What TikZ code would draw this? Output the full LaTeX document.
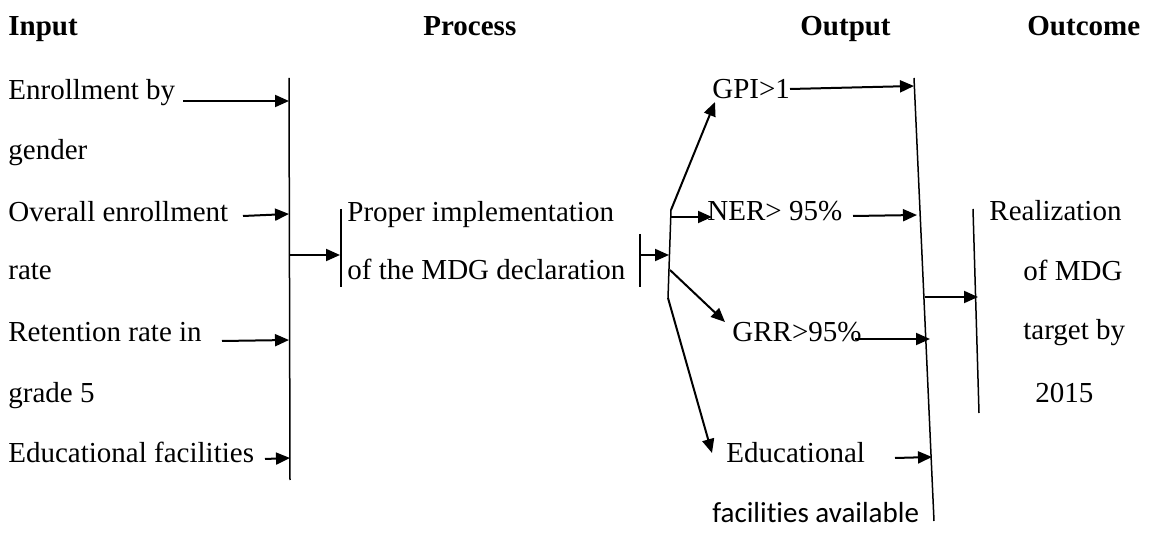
\documentclass[tikz,border=0pt]{standalone}
\usepackage{fontspec}
\setmainfont{Liberation Serif}
\newfontfamily\calibrifont[Ligatures=NoCommon]{Carlito}
\usetikzlibrary{arrows.meta}
\begin{document}
\begin{tikzpicture}[
			x=0.5pt, y=-0.5pt,
			>={Triangle[length=7pt,width=6pt]},
			every node/.style = {font=\fontsize{14.5}{17}\selectfont, inner sep=0pt, anchor=base west},
			head/.style       = {font=\fontsize{14.5}{17}\selectfont\bfseries},
			bar/.style        = {line width=0.75pt},
			arr/.style        = {->, line width=1pt}
			]
			\useasboundingbox (0,0) rectangle (1152,534);
			%--- headings ---
			\node[head] (hin)  at (8,36)    {Input};
			\node[head] (hpr)  at (423,36)  {Process};
			\node[head] (hou)  at (800,36)  {Output};
			\node[head] (hoc)  at (1027,36) {Outcome};
			
			%--- input ---
			\node (i1) at (8,100) {Enrollment by};
			\node (i2) at (8,160) {gender};
			\node (i3) at (8,222) {Overall enrollment};
			\node (i4) at (8,280) {rate};
			\node (i5) at (8,342) {Retention rate in};
			\node (i6) at (8,402) {grade 5};
			\node (i7) at (8,462) {Educational facilities};
			
			\coordinate (l1) at (289,78);
			\coordinate (l2) at (290,480);
			\draw[bar] (l1) -- (l2);
			
			\coordinate (a1) at (183,101);  \coordinate (b1) at (289,101);
			\coordinate (a2) at (243,216);  \coordinate (b2) at (289,214);
			\coordinate (a3) at (222,341);  \coordinate (b3) at (289,340);
			\coordinate (a4) at (265,459);  \coordinate (b4) at (290,458);
			\draw[arr] (a1) -- (b1);
			\draw[arr] (a2) -- (b2);
			\draw[arr] (a3) -- (b3);
			\draw[arr] (a4) -- (b4);
			
			%--- process ---
			\coordinate (p1) at (341,209);
			\coordinate (p2) at (341,287);
			\coordinate (p3) at (640,234);
			\coordinate (p4) at (640,287);
			\draw[bar] (p1) -- (p2);
			\draw[bar] (p3) -- (p4);
			\node (pr1) at (347,222) {Proper implementation};
			\node (pr2) at (347,280) {of the MDG declaration};
			
			\coordinate (c1) at (290,255);
			\coordinate (c2) at (340,255);
			\draw[arr] (c1) -- (c2);
			\coordinate (c3) at (641,255);
			\coordinate (c4) at (669,255);
			\draw[arr] (c3) -- (c4);
			
			%--- output ---
			\coordinate (s1) at (671,210);
			\coordinate (s2) at (668,298);
			\draw[bar] (s1) -- (s2);
			
			\node (o1) at (712,99)  {GPI>1};
			\node (o2) at (707,221) {NER> 95\%};
			\node (o3) at (732,342) {GRR>95\%};
			\node (o4) at (726,462) {Educational};
			\node[font=\fontsize{14.5}{17}\selectfont\calibrifont] (o5) at (712,522) {facilities available};
			
			\coordinate (t1) at (715,102);
			\coordinate (s3) at (671,217);  \coordinate (t2) at (712,217);
			\coordinate (s4) at (670,270);  \coordinate (t3) at (725,322);
			\coordinate (t4) at (712,453);
			\draw[arr] (s1) -- (t1);
			\draw[arr] (s3) -- (t2);
			\draw[arr] (s4) -- (t3);
			\draw[arr] (s2) -- (t4);
			
			\coordinate (r1) at (914,78);
			\coordinate (r2) at (934,521);
			\draw[bar] (r1) -- (r2);
			
			\coordinate (d1) at (790,89);   \coordinate (e1) at (914,86);
			\coordinate (d2) at (853,216);  \coordinate (e2) at (917,215);
			\coordinate (d3) at (855,339);  \coordinate (e3) at (930,339);
			\coordinate (d4) at (895,458);  \coordinate (e4) at (932,457);
			\draw[arr] (d1) -- (e1);
			\draw[arr] (d2) -- (e2);
			\draw[arr] (d3) -- (e3);
			\draw[arr] (d4) -- (e4);
			
			%--- outcome ---
			\coordinate (u1) at (973,209);
			\coordinate (u2) at (979,413);
			\draw[bar] (u1) -- (u2);
			\coordinate (g1) at (925,297);
			\coordinate (g2) at (978,297);
			\draw[arr] (g1) -- (g2);
			
			\node (q1) at (989,221)  {Realization};
			\node (q2) at (1023,281) {of MDG};
			\node (q3) at (1023,340) {target by};
			\node (q4) at (1035,402) {2015};
		\end{tikzpicture}
\end{document}
